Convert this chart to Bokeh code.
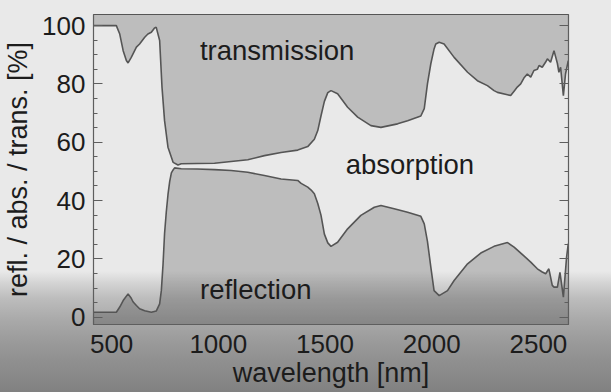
from bokeh.plotting import figure
from bokeh.models import LinearAxis, FixedTicker, Range1d
from bokeh.core.properties import value
from bokeh.embed import file_html
from bokeh.resources import INLINE

# ---------------- data ----------------
X_TICKS = [500, 1000, 1500, 2000, 2500]
Y_TICKS = [0, 20, 40, 60, 80, 100]
Y_MINOR = [5, 10, 15, 25, 30, 35, 45, 50, 55, 65, 70, 75, 85, 90, 95]

# transmission curve (upper boundary), wavelength [nm] -> %
T_WL = [415, 522, 538, 554, 569, 577, 592, 616, 631, 655,
        670, 686, 701, 709, 725, 736, 748, 764, 788, 811,
        826, 900, 982, 1060, 1138, 1216, 1294, 1372, 1419, 1450,
        1466, 1481, 1497, 1513, 1528, 1559, 1606, 1653, 1715, 1762,
        1840, 1887, 1949, 1965, 1980, 1996, 2011, 2019, 2035, 2058,
        2105, 2168, 2214, 2261, 2292, 2308, 2355, 2370, 2386, 2401,
        2417, 2432, 2448, 2464, 2479, 2495, 2503, 2518, 2534, 2542,
        2557, 2573, 2589, 2596, 2604, 2617, 2627, 2640]
T_VAL = [100.0, 100.0, 97.1, 91.4, 88.0, 87.2, 89.1, 92.6, 93.7, 96.0,
         97.1, 97.7, 99.2, 99.4, 94.9, 78.9, 67.4, 58.3, 53.1, 52.2,
         52.6, 52.7, 52.8, 53.4, 54.0, 55.4, 56.5, 57.3, 58.5, 61.0,
         64.0, 69.0, 74.0, 77.0, 77.7, 76.6, 72.0, 68.6, 65.7, 65.1,
         66.3, 67.4, 69.0, 71.5, 80.0, 87.0, 92.0, 93.7, 94.3, 93.7,
         89.1, 84.0, 81.1, 79.4, 77.7, 77.1, 76.3, 76.0, 77.5, 78.9,
         80.0, 82.0, 83.4, 82.3, 84.6, 85.0, 86.3, 85.7, 87.5, 88.6,
         87.4, 91.4, 87.0, 84.0, 85.7, 76.0, 83.4, 88.0]

# reflection curve (lower boundary), wavelength [nm] -> %
R_WL = [415, 522, 538, 554, 577, 592, 600, 616, 631, 655,
        686, 709, 725, 733, 741, 748, 756, 764, 772, 780,
        788, 795, 826, 900, 982, 1060, 1138, 1216, 1294, 1372,
        1388, 1419, 1435, 1450, 1466, 1481, 1497, 1513, 1528, 1559,
        1606, 1668, 1731, 1762, 1824, 1887, 1949, 1965, 1980, 1996,
        2011, 2035, 2074, 2105, 2168, 2230, 2292, 2355, 2386, 2432,
        2464, 2495, 2518, 2534, 2549, 2565, 2573, 2589, 2601, 2617,
        2632, 2640]
R_VAL = [1.7, 1.7, 3.5, 5.7, 8.0, 6.5, 5.3, 4.0, 2.9, 2.2,
         1.7, 2.1, 4.6, 9.2, 18.3, 28.6, 36.0, 42.0, 46.5, 49.5,
         50.5, 51.2, 50.9, 50.8, 50.6, 50.3, 49.7, 48.6, 47.4, 46.9,
         45.9, 44.6, 43.6, 42.3, 39.0, 35.0, 28.5, 25.5, 24.3, 25.7,
         30.3, 34.9, 37.7, 38.3, 37.2, 36.0, 34.6, 32.0, 26.0, 17.1,
         9.1, 7.4, 9.1, 12.6, 18.3, 22.0, 24.3, 25.6, 24.0, 21.0,
         18.9, 16.6, 15.5, 14.9, 16.6, 10.9, 10.3, 10.3, 15.4, 6.9,
         20.6, 25.2]

REGION_LABELS = ["transmission", "absorption", "reflection"]
LABEL_X = [914, 1597, 914]
LABEL_Y = [91.3, 52.3, 9.4]

# ---------------- styling ----------------
FONT = "Liberation Sans"
TEXT = "#1c1c1c"
LINE = "#555555"
FRAME = "#5e5e5e"

p = figure(width=611, height=392,
           x_range=Range1d(415, 2641), y_range=Range1d(-2.5, 103.8),
           output_backend="svg", toolbar_location=None,
           min_border_left=92, min_border_right=43,
           min_border_top=14, min_border_bottom=68,
           background_fill_color=None, border_fill_color=None,
           outline_line_color=FRAME, outline_line_width=1.2)
p.styles = {"background": (
    "linear-gradient(to bottom, #e9e9e9 0px, #e9e9e9 271px, #d2d2d2 284px, "
    "#bcbcbc 299px, #aaaaaa 319px, #9c9c9c 339px, #909090 360px, "
    "#878787 380px, #818181 392px)")}
p.grid.visible = False

# shaded regions (black at low alpha so the page shading shows through)
p.varea(x=T_WL, y1=T_VAL, y2=200, fill_color="black", fill_alpha=0.19)
p.varea(x=R_WL, y1=-50, y2=R_VAL, fill_color="black", fill_alpha=0.19)
p.line(T_WL, T_VAL, line_color=LINE, line_width=1.6)
p.line(R_WL, R_VAL, line_color=LINE, line_width=1.6)

p.text(x=LABEL_X, y=LABEL_Y, text=REGION_LABELS,
       text_font=value(FONT), text_font_size="27.5px", text_color=TEXT,
       text_align="left", text_baseline="alphabetic")

# axes
xa = p.xaxis[0]
xa.ticker = FixedTicker(ticks=X_TICKS)
xa.axis_line_color = FRAME
xa.major_tick_line_color = None
xa.minor_tick_line_color = None
xa.major_label_standoff = 4
xa.major_label_text_font = FONT
xa.major_label_text_font_size = "26px"
xa.major_label_text_color = TEXT
xa.axis_label = "wavelength [nm]"
xa.axis_label_text_font = FONT
xa.axis_label_text_font_size = "27px"
xa.axis_label_text_font_style = "normal"
xa.axis_label_text_color = TEXT
xa.axis_label_standoff = 2

ya = p.yaxis[0]
ya.ticker = FixedTicker(ticks=Y_TICKS, minor_ticks=Y_MINOR)
ya.axis_line_color = FRAME
ya.major_tick_line_color = FRAME
ya.minor_tick_line_color = FRAME
ya.major_tick_in = 9
ya.major_tick_out = 0
ya.minor_tick_in = 4
ya.minor_tick_out = 0
ya.major_label_standoff = 8
ya.major_label_text_font = FONT
ya.major_label_text_font_size = "26px"
ya.major_label_text_color = TEXT
ya.axis_label = "refl. / abs. / trans. [%]"
ya.axis_label_text_font = FONT
ya.axis_label_text_font_size = "27px"
ya.axis_label_text_font_style = "normal"
ya.axis_label_text_color = TEXT
ya.axis_label_standoff = 6

ra = LinearAxis(ticker=FixedTicker(ticks=Y_TICKS, minor_ticks=Y_MINOR))
ra.axis_line_color = FRAME
ra.major_tick_line_color = FRAME
ra.minor_tick_line_color = FRAME
ra.major_tick_in = 9
ra.major_tick_out = 0
ra.minor_tick_in = 4
ra.minor_tick_out = 0
ra.major_label_text_font_size = "0px"
ra.major_label_text_alpha = 0
p.add_layout(ra, "right")

open("out.html", "w").write(file_html(p, INLINE))
